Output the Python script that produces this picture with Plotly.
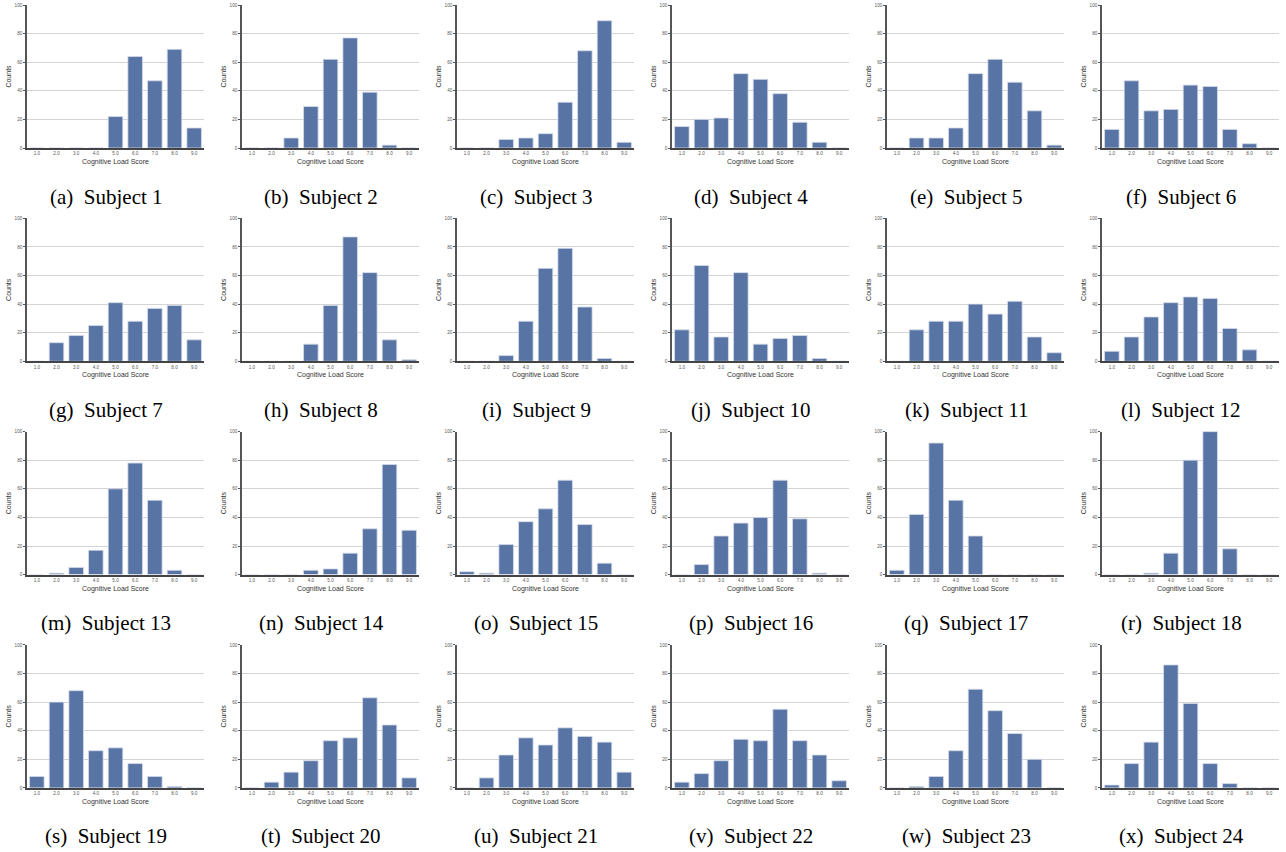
import plotly.graph_objects as go
from plotly.subplots import make_subplots

scores = ["1.0", "2.0", "3.0", "4.0", "5.0", "6.0", "7.0", "8.0", "9.0"]
y_ticks = [0, 20, 40, 60, 80, 100]
letters = list("abcdefghijklmnopqrstuvwx")

subject_1 = [0, 0, 0, 0, 22, 64, 47, 69, 14]
subject_2 = [0, 0, 7, 29, 62, 77, 39, 2, 0]
subject_3 = [0, 0, 6, 7, 10, 32, 68, 89, 4]
subject_4 = [15, 20, 21, 52, 48, 38, 18, 4, 0]
subject_5 = [0, 7, 7, 14, 52, 62, 46, 26, 2]
subject_6 = [13, 47, 26, 27, 44, 43, 13, 3, 0]
subject_7 = [0, 13, 18, 25, 41, 28, 37, 39, 15]
subject_8 = [0, 0, 0, 12, 39, 87, 62, 15, 1]
subject_9 = [0, 0, 4, 28, 65, 79, 38, 2, 0]
subject_10 = [22, 67, 17, 62, 12, 16, 18, 2, 0]
subject_11 = [0, 22, 28, 28, 40, 33, 42, 17, 6]
subject_12 = [7, 17, 31, 41, 45, 44, 23, 8, 0]
subject_13 = [0, 1, 5, 17, 60, 78, 52, 3, 0]
subject_14 = [0, 0, 0, 3, 4, 15, 32, 77, 31]
subject_15 = [2, 1, 21, 37, 46, 66, 35, 8, 0]
subject_16 = [0, 7, 27, 36, 40, 66, 39, 1, 0]
subject_17 = [3, 42, 92, 52, 27, 0, 0, 0, 0]
subject_18 = [0, 0, 1, 15, 80, 100, 18, 0, 0]
subject_19 = [8, 60, 68, 26, 28, 17, 8, 1, 0]
subject_20 = [0, 4, 11, 19, 33, 35, 63, 44, 7]
subject_21 = [0, 7, 23, 35, 30, 42, 36, 32, 11]
subject_22 = [4, 10, 19, 34, 33, 55, 33, 23, 5]
subject_23 = [0, 1, 8, 26, 69, 54, 38, 20, 0]
subject_24 = [2, 17, 32, 86, 59, 17, 3, 0, 0]

subjects = [subject_1, subject_2, subject_3, subject_4, subject_5, subject_6,
            subject_7, subject_8, subject_9, subject_10, subject_11, subject_12,
            subject_13, subject_14, subject_15, subject_16, subject_17, subject_18,
            subject_19, subject_20, subject_21, subject_22, subject_23, subject_24]

W, H = 1286, 852
ROWS, COLS = 4, 6
fig = make_subplots(rows=ROWS, cols=COLS)

BAR = "#5874a4"
for i, vals in enumerate(subjects):
    r, c = i // COLS + 1, i % COLS + 1
    fig.add_trace(go.Bar(x=scores, y=vals, marker=dict(color=BAR, line=dict(color="#d5dcea", width=0.8)),
                         showlegend=False, hoverinfo="x+y"), row=r, col=c)

ann = []
for i in range(ROWS * COLS):
    r, c = i // COLS, i % COLS
    x0 = 27 + 215 * c
    x1 = x0 + 177
    y_top = 5 + 213.3 * r
    y_bot = y_top + 143
    n = i + 1
    xa = "xaxis" if n == 1 else f"xaxis{n}"
    ya = "yaxis" if n == 1 else f"yaxis{n}"
    fig.layout[xa].update(
        domain=[x0 / W, x1 / W], type="category", range=[-0.5, 8.5],
        showline=True, linecolor="#444444", linewidth=1.5, showgrid=False, zeroline=False,
        ticks="", tickfont=dict(size=4.6, color="#555555", family="Liberation Sans, Arial"),
        title=dict(text="Cognitive Load Score", font=dict(size=7, color="#333333", family="Liberation Sans, Arial"),
                   standoff=4),
        fixedrange=True, automargin=False,
    )
    fig.layout[ya].update(
        domain=[1 - y_bot / H, 1 - y_top / H], range=[0, 100], tickvals=y_ticks,
        showline=True, linecolor="#555555", linewidth=1.6, showgrid=True, gridcolor="#d4d4d4", gridwidth=1,
        zeroline=False, ticks="outside", ticklen=2, tickwidth=1, tickcolor="#555555",
        tickfont=dict(size=4.6, color="#555555", family="Liberation Sans, Arial"),
        title=dict(text="Counts", font=dict(size=7, color="#333333", family="Liberation Sans, Arial"), standoff=2),
        fixedrange=True, automargin=False,
    )
    ann.append(dict(
        text=f"({letters[i]})\u00a0 Subject {n}", xref="paper", yref="paper",
        x=(106 + 215 * c) / W, y=1 - (197 + 213 * r) / H, xanchor="center", yanchor="middle",
        showarrow=False, font=dict(family="Liberation Serif, Times New Roman, serif", size=21, color="#000000"),
    ))

fig.update_layout(
    width=W, height=H, margin=dict(l=0, r=0, t=0, b=0),
    paper_bgcolor="white", plot_bgcolor="white", bargap=0.26,
    annotations=ann,
)
fig.write_html("out.html", config={"displayModeBar": False},
               post_script="document.body.style.margin='0';document.body.style.overflow='hidden';")
